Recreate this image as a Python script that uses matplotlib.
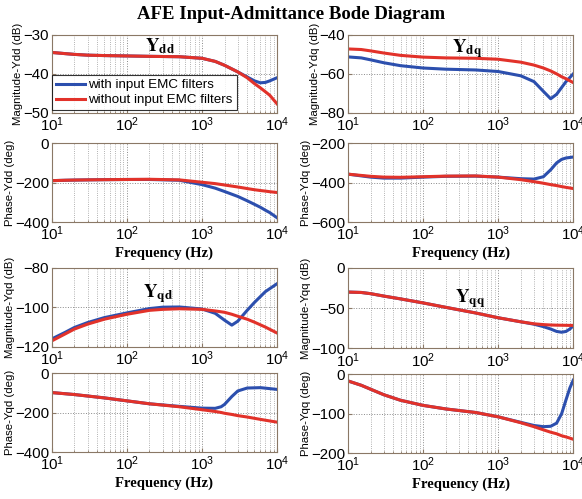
import matplotlib.pyplot as plt
from matplotlib.ticker import LogLocator, FixedLocator
import numpy as np

plt.rcParams['font.family'] = ['Liberation Sans', 'DejaVu Sans']
plt.rcParams['mathtext.fontset'] = 'stix'

AZUL = '#2c4fae'
ROJO = '#e2322a'
BORDE = '#8a7866'

# ---- Ydd ----
f_dd_mag = [10, 15, 20, 30, 50, 100, 200, 500, 1000, 1500, 2000, 3000, 4000, 5000, 6000, 7000, 8000, 10000]
ydd_mag_sin = [-34.5, -34.8, -35.0, -35.2, -35.3, -35.4, -35.5, -35.6, -36.0, -36.8, -37.8, -39.5, -41.0, -42.5, -43.6, -44.6, -45.5, -47.7]
ydd_mag_con = [-34.5, -34.8, -35.0, -35.2, -35.3, -35.4, -35.5, -35.6, -36.0, -36.8, -37.8, -39.5, -40.8, -41.8, -42.3, -42.2, -41.8, -41.0]
f_dd_fase = [10, 15, 20, 30, 50, 100, 200, 500, 1000, 1500, 2000, 3000, 4000, 5000, 6000, 7000, 8000, 10000]
ydd_fase_sin = [-190, -188, -187, -186, -185, -184, -183, -186, -198, -205, -212, -222, -230, -236, -240, -243, -246, -250]
ydd_fase_con = [-190, -188, -187, -186, -185, -184, -184, -188, -210, -228, -245, -270, -292, -310, -325, -340, -352, -378]

# ---- Ydq ----
f_dq_mag = [10, 15, 20, 30, 50, 100, 200, 500, 1000, 2000, 3000, 4000, 5000, 6000, 7000, 8000, 10000]
ydq_mag_sin = [-47.2, -47.5, -48.2, -49.3, -50.5, -51.4, -51.8, -52.0, -52.5, -54.0, -55.5, -57.0, -58.5, -60.0, -61.5, -62.5, -64.5]
ydq_mag_con = [-51.3, -51.8, -52.8, -54.3, -55.8, -57.0, -57.6, -58.0, -58.8, -61.0, -64.0, -69.0, -72.8, -70.5, -67.0, -64.0, -60.0]
f_dq_fase = [10, 20, 30, 50, 100, 200, 500, 1000, 2000, 3000, 4000, 5000, 6000, 7000, 8000, 10000]
ydq_fase_sin = [-357, -368, -372, -373, -370, -367, -366, -372, -385, -395, -403, -410, -415, -420, -424, -430]
ydq_fase_con = [-357, -372, -377, -377, -372, -368, -367, -372, -380, -382, -370, -335, -300, -282, -275, -270]

# ---- Yqd ----
f_qd_mag = [10, 15, 20, 30, 50, 100, 200, 300, 500, 1000, 1500, 2000, 2500, 3000, 4000, 5000, 7000, 10000]
yqd_mag_sin = [-117, -113.5, -111, -108.5, -106, -103.5, -101.5, -101, -100.7, -101, -101.8, -102.5, -103.5, -104.5, -106, -107.5, -110, -113]
yqd_mag_con = [-116, -112.7, -110.2, -107.7, -105.2, -102.8, -100.6, -99.9, -99.8, -100.8, -103, -106.5, -109, -107, -101.5, -97.5, -92, -88]
f_qd_fase = [10, 20, 50, 100, 200, 500, 1000, 1500, 1800, 2000, 2500, 3000, 4000, 6000, 8000, 10000]
yqd_fase_sin = [-98, -108, -125, -140, -155, -170, -185, -194, -199, -203, -209, -215, -222, -234, -242, -248]
yqd_fase_con = [-98, -108, -125, -140, -155, -168, -177, -178, -170, -158, -118, -90, -75, -73, -78, -82]

# ---- Yqq ----
f_qq_mag = [10, 15, 20, 30, 50, 100, 200, 500, 1000, 2000, 3000, 4000, 5000, 6000, 7000, 8000, 9000, 10000]
yqq_mag_sin = [-30, -30.5, -32, -35, -38.5, -43.5, -49, -56, -62, -67, -69.5, -70.5, -71, -71.2, -71.3, -71.4, -71.5, -71.5]
yqq_mag_con = [-30, -30.5, -32, -35, -38.5, -43.5, -49, -56, -62, -67, -70, -73, -76, -79, -80, -79, -76, -72]
f_qq_fase = [10, 15, 20, 30, 50, 100, 200, 500, 1000, 2000, 3000, 4000, 5000, 6000, 7000, 8000, 9000, 10000]
yqq_fase_sin = [-17, -28, -38, -52, -66, -79, -88, -97, -108, -123, -133, -141, -147, -151, -156, -159, -162, -165]
yqq_fase_con = [-17, -28, -38, -52, -66, -79, -88, -97, -108, -122, -130, -133, -132, -124, -100, -65, -35, -15]

paneles = [
    # (pos, f, con, sin, ylim, yticks, ylabel, nombre, pos_nombre, xlabel)
    ([0.089, 0.774, 0.387, 0.156], f_dd_mag, ydd_mag_con, ydd_mag_sin, (-50, -30), [-50, -40, -30],
     'Magnitude-Ydd (dB)', r'$\mathbf{Y}_{\mathbf{dd}}$', (0.48, 0.86), False),
    ([0.089, 0.555, 0.387, 0.158], f_dd_fase, ydd_fase_con, ydd_fase_sin, (-400, 0), [-400, -200, 0],
     'Phase-Ydd (deg)', None, None, True),
    ([0.598, 0.774, 0.387, 0.156], f_dq_mag, ydq_mag_con, ydq_mag_sin, (-80, -40), [-80, -60, -40],
     'Magnitude-Ydq (dB)', r'$\mathbf{Y}_{\mathbf{dq}}$', (0.53, 0.83), False),
    ([0.598, 0.555, 0.387, 0.158], f_dq_fase, ydq_fase_con, ydq_fase_sin, (-600, -200), [-600, -400, -200],
     'Phase-Ydq (deg)', None, None, True),
    ([0.089, 0.305, 0.387, 0.158], f_qd_mag, yqd_mag_con, yqd_mag_sin, (-120, -80), [-120, -100, -80],
     'Magnitude-Yqd (dB)', r'$\mathbf{Y}_{\mathbf{qd}}$', (0.47, 0.68), False),
    ([0.089, 0.094, 0.387, 0.158], f_qd_fase, yqd_fase_con, yqd_fase_sin, (-400, 0), [-400, -200, 0],
     'Phase-Yqd (deg)', None, None, True),
    ([0.598, 0.302, 0.387, 0.161], f_qq_mag, yqq_mag_con, yqq_mag_sin, (-100, 0), [-100, -50, 0],
     'Magnitude-Yqq (dB)', r'$\mathbf{Y}_{\mathbf{qq}}$', (0.54, 0.62), False),
    ([0.598, 0.092, 0.387, 0.158], f_qq_fase, yqq_fase_con, yqq_fase_sin, (-200, 0), [-200, -100, 0],
     'Phase-Yqq (deg)', None, None, True),
]

fig = plt.figure(figsize=(5.82, 4.99), dpi=100)

ejes = []
for pos, f, con, sin, ylim, yticks, ylabel, nombre, pos_nombre, xlabel in paneles:
    ax = fig.add_axes(pos)
    ax.plot(f, con, color=AZUL, lw=2.2, label='with input EMC filters')
    ax.plot(f, sin, color=ROJO, lw=2.2, label='without input EMC filters')
    ax.set_xscale('log')
    ax.set_xlim(10, 1e4)
    ax.set_ylim(*ylim)
    ax.yaxis.set_major_locator(FixedLocator(yticks))
    ax.xaxis.set_major_locator(LogLocator(base=10, numticks=10))
    ax.xaxis.set_minor_locator(LogLocator(base=10, subs=np.arange(2, 10), numticks=20))
    ax.grid(True, which='major', ls=':', color='#888888', lw=0.7)
    ax.grid(True, which='minor', axis='x', ls=':', color='#999999', lw=0.6)
    ax.tick_params(which='both', direction='in', labelsize=10.8, pad=2, color=BORDE)
    ax.tick_params(which='major', length=3)
    ax.tick_params(which='minor', length=1.5)
    for s in ax.spines.values():
        s.set_color(BORDE)
        s.set_linewidth(0.8)
    ax.set_ylabel(ylabel, fontsize=8.2, labelpad=0)
    if nombre:
        ax.text(pos_nombre[0], pos_nombre[1], nombre, transform=ax.transAxes,
                fontsize=13.5, ha='center', va='center')
    if xlabel:
        ax.set_xlabel('Frequency (Hz)', family='Liberation Serif', fontweight='bold',
                      fontsize=10.5, labelpad=2)
    ejes.append(ax)

leg = ejes[0].legend(loc='lower left', bbox_to_anchor=(0.0, 0.03), borderaxespad=0,
                     fontsize=9.6, frameon=True, fancybox=False, handlelength=2.2,
                     handletextpad=0.25, borderpad=0.3, labelspacing=0.2)
leg.get_frame().set_edgecolor('black')
leg.get_frame().set_linewidth(0.8)

fig.text(0.5, 0.97, 'AFE Input-Admittance Bode Diagram', ha='center', va='center',
         family='Liberation Serif', fontweight='bold', fontsize=13.5)

fig.savefig('out.png', dpi=100)
